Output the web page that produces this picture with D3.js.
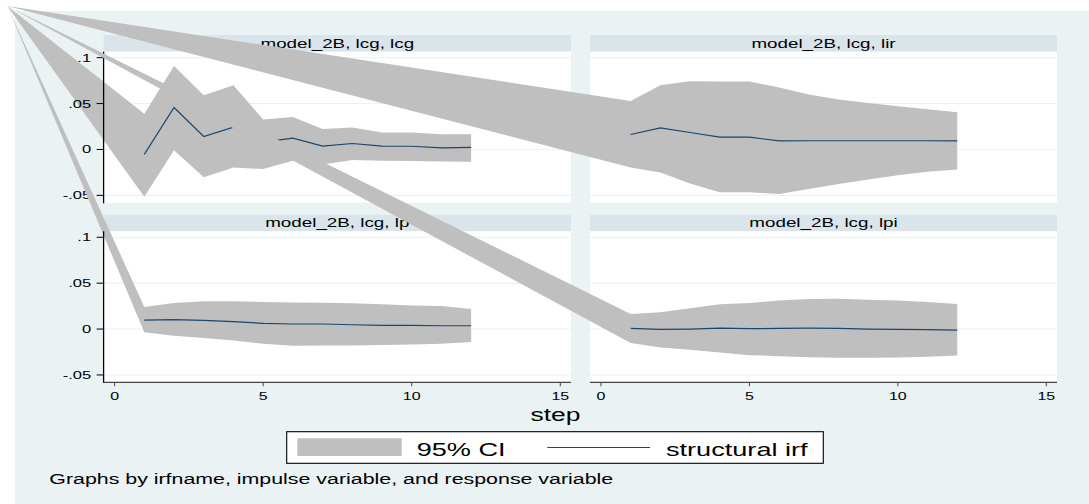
<!DOCTYPE html>
<html>
<head>
<meta charset="utf-8">
<script src="https://cdn.jsdelivr.net/npm/d3@7"></script>
<style>
  html, body { margin: 0; padding: 0; background: #fff; }
  svg { display: block; font-family: "Liberation Sans", Arial, Helvetica, sans-serif; }
</style>
</head>
<body>
<svg id="chart" width="1089" height="504"></svg>
<script>
// ---------------- data ----------------
const steps = [1, 2, 3, 4, 5, 6, 7, 8, 9, 10, 11, 12];
const panelTitles = ["model_2B, lcg, lcg", "model_2B, lcg, lir", "model_2B, lcg, lp", "model_2B, lcg, lpi"];

const irfLcg   = [-0.0054, 0.0457, 0.0141, 0.0242, 0.0080, 0.0123, 0.0036, 0.0065, 0.0036, 0.0035, 0.0017, 0.0022];
const upperLcg = [0.0390, 0.0910, 0.0590, 0.0700, 0.0326, 0.0354, 0.0224, 0.0239, 0.0185, 0.0185, 0.0166, 0.0166];
const lowerLcg = [-0.0515, -0.0008, -0.0304, -0.0196, -0.0214, -0.0124, -0.0163, -0.0116, -0.0124, -0.0127, -0.0130, -0.0134];

const irfLir   = [0.0163, 0.0235, 0.0185, 0.0134, 0.0134, 0.0093, 0.0095, 0.0095, 0.0095, 0.0095, 0.0095, 0.0093];
const upperLir = [0.0528, 0.0699, 0.0742, 0.0740, 0.0740, 0.0674, 0.0600, 0.0543, 0.0507, 0.0471, 0.0438, 0.0405];
const lowerLir = [-0.0196, -0.0250, -0.0370, -0.0467, -0.0467, -0.0486, -0.0432, -0.0377, -0.0326, -0.0280, -0.0243, -0.0217];

const irfLp    = [0.0098, 0.0102, 0.0095, 0.0080, 0.0062, 0.0055, 0.0055, 0.0047, 0.0040, 0.0040, 0.0036, 0.0036];
const upperLp  = [0.0240, 0.0284, 0.0302, 0.0302, 0.0295, 0.0290, 0.0287, 0.0280, 0.0269, 0.0258, 0.0250, 0.0218];
const lowerLp  = [-0.0036, -0.0073, -0.0098, -0.0124, -0.0160, -0.0182, -0.0178, -0.0178, -0.0175, -0.0167, -0.0160, -0.0142];

const irfLpi   = [0.0007, -0.0004, 0.0000, 0.0010, 0.0004, 0.0007, 0.0010, 0.0007, 0.0000, -0.0004, -0.0007, -0.0011];
const upperLpi = [0.0164, 0.0182, 0.0226, 0.0269, 0.0284, 0.0310, 0.0328, 0.0330, 0.0320, 0.0310, 0.0295, 0.0273];
const lowerLpi = [-0.0153, -0.0200, -0.0226, -0.0255, -0.0284, -0.0295, -0.0306, -0.0313, -0.0313, -0.0310, -0.0302, -0.0288];

const yTicks = [-0.05, 0, 0.05, 0.1];
const yTickLabels = ["-.05", "0", ".05", ".1"];
const xTicks = [0, 5, 10, 15];
const xTickLabels = ["0", "5", "10", "15"];
const legendLabels = ["95% CI", "structural irf"];
const xTitle = "step";
const noteText = "Graphs by irfname, impulse variable, and response variable";

// ---------------- layout / style ----------------
const W = 1089, H = 504;
const colX = [[103.6, 571], [590, 1057]];
const rowY = [[51.7, 202.7], [231.3, 382.3]];
const stripH = 16.6;
const apex = [7.3, 6];            // rendering artifact: every CI polygon starts at this corner point
const ciColor = "#bfbfbf";
const lineColor = "#1a476f";
const bgColor = "#eaf2f3";
const stripColor = "#d9e5eb";
const gridColor = "#eaf2f3";

const panels = [
  {title: panelTitles[0], irf: irfLcg, up: upperLcg, lo: lowerLcg, col: 0, row: 0},
  {title: panelTitles[1], irf: irfLir, up: upperLir, lo: lowerLir, col: 1, row: 0},
  {title: panelTitles[2], irf: irfLp,  up: upperLp,  lo: lowerLp,  col: 0, row: 1},
  {title: panelTitles[3], irf: irfLpi, up: upperLpi, lo: lowerLpi, col: 1, row: 1}
];

const svg = d3.select("#chart");
svg.append("rect").attr("x", 0).attr("y", 0).attr("width", W).attr("height", H).attr("fill", "#fff");
svg.append("rect").attr("x", 15).attr("y", 11).attr("width", W - 15).attr("height", H - 11).attr("fill", bgColor);

function stretchedText(g, x, y, txt, size, sx, anchor) {
  return g.append("text")
    .attr("transform", `translate(${x},${y}) scale(${sx},1)`)
    .attr("text-anchor", anchor)
    .attr("font-size", size)
    .attr("fill", "#000")
    .text(txt);
}

panels.forEach(p => {
  const [x0, x1] = colX[p.col];
  const [yTop, yBot] = rowY[p.row];
  const x = d3.scaleLinear().domain([-0.37, 15.36]).range([x0, x1]);
  const y = d3.scaleLinear().domain([-0.058, 0.1065]).range([yBot, yTop]);
  const g = svg.append("g");

  // strip
  g.append("rect").attr("x", x0).attr("y", yTop - stripH).attr("width", x1 - x0).attr("height", stripH).attr("fill", stripColor);
  stretchedText(g, (x0 + x1) / 2, yTop - 4.2, p.title, 12.8, 1.47, "middle");

  // plot region
  g.append("rect").attr("x", x0).attr("y", yTop).attr("width", x1 - x0).attr("height", yBot - yTop).attr("fill", "#fff");
  g.selectAll("line.grid").data(yTicks).enter().append("line")
    .attr("x1", x0).attr("x2", x1)
    .attr("y1", d => y(d)).attr("y2", d => y(d))
    .attr("stroke", gridColor).attr("stroke-width", 1.1);

  // CI polygon (with artifact apex)
  const pts = [apex]
    .concat(steps.map((s, i) => [x(s), y(p.up[i])]))
    .concat(steps.map((s, i) => [x(s), y(p.lo[i])]).reverse());
  g.append("path").attr("d", d3.line()(pts) + "Z").attr("fill", ciColor).attr("stroke", "none");

  // irf line
  const line = d3.line().x((d, i) => x(steps[i])).y(d => y(d));
  g.append("path").attr("d", line(p.irf)).attr("fill", "none").attr("stroke", lineColor).attr("stroke-width", 1.2);

  // y axis (left column only)
  if (p.col === 0) {
    g.append("line").attr("x1", x0).attr("x2", x0).attr("y1", yTop).attr("y2", yBot + 0.6)
      .attr("stroke", "#000").attr("stroke-width", 1.3);
    yTicks.forEach((t, i) => {
      g.append("line").attr("x1", x0 - 7).attr("x2", x0).attr("y1", y(t)).attr("y2", y(t)).attr("stroke", "#000").attr("stroke-width", 1);
      stretchedText(g, x0 - 12.5, y(t) + 4, yTickLabels[i], 11, 1.5, "end");
    });
  }
  // x axis (bottom row only)
  if (p.row === 1) {
    g.append("line").attr("x1", x0).attr("x2", x1).attr("y1", yBot).attr("y2", yBot)
      .attr("stroke", "#444").attr("stroke-width", 1.3);
    xTicks.forEach((t, i) => {
      g.append("line").attr("x1", x(t)).attr("x2", x(t)).attr("y1", yBot).attr("y2", yBot + 4).attr("stroke", "#444").attr("stroke-width", 1);
      stretchedText(g, x(t), yBot + 17.5, xTickLabels[i], 11, 1.45, "middle");
    });
  }
});

// x title
stretchedText(svg, 555.5, 421, xTitle, 18, 1.47, "middle");

// legend
const lg = svg.append("g");
lg.append("rect").attr("x", 286.7).attr("y", 431.7).attr("width", 823.3 - 286.7).attr("height", 31.6)
  .attr("fill", "#fff").attr("stroke", "#000").attr("stroke-width", 1.1);
lg.append("rect").attr("x", 297.3).attr("y", 438.3).attr("width", 104.4).attr("height", 17.7).attr("fill", ciColor);
stretchedText(lg, 416.7, 456, legendLabels[0], 17.5, 1.55, "start");
lg.append("line").attr("x1", 547.3).attr("x2", 650).attr("y1", 447.5).attr("y2", 447.5).attr("stroke", lineColor).attr("stroke-width", 1.2);
stretchedText(lg, 666, 456, legendLabels[1], 17.5, 1.55, "start");

// note
stretchedText(svg, 49.3, 483.5, noteText, 13.7, 1.56, "start");
</script>
</body>
</html>
